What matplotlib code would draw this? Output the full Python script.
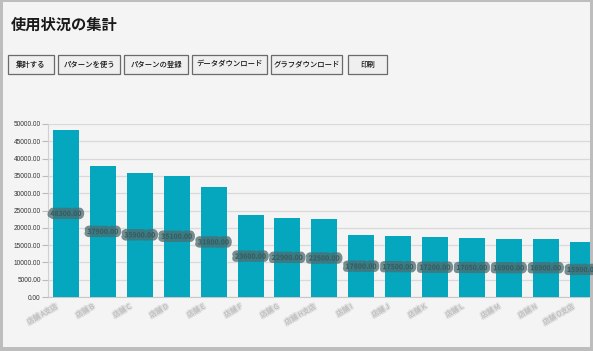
import matplotlib
matplotlib.use("Agg")
import matplotlib.pyplot as plt
from matplotlib.patches import Rectangle
import matplotlib.patheffects as pe

plt.rcParams['font.family'] = ['Noto Sans CJK JP', 'DejaVu Sans']

W, H = 593, 351

# ---- data ----
title = "使用状況の集計"
buttons = ["集計する", "パターンを使う", "パターンの登録", "データダウンロード", "グラフダウンロード", "印刷"]
categories = ["店舗 A支店", "店舗 B", "店舗 C", "店舗 D", "店舗 E", "店舗 F", "店舗 G", "店舗 H支店",
              "店舗 I", "店舗 J", "店舗 K", "店舗 L", "店舗 M", "店舗 N", "店舗 O支店"]
values = [48300, 37900, 35900, 35100, 31800, 23600, 22900, 22500,
          17800, 17500, 17200, 17050, 16900, 16900, 15900]
yticks = [0, 5000, 10000, 15000, 20000, 25000, 30000, 35000, 40000, 45000, 50000]

fig = plt.figure(figsize=(W / 100, H / 100), dpi=100)
fig.patch.set_facecolor('#bdbdbd')

def fx(x):
    return x / W

def fy(y):
    return 1 - y / H

# page background
fig.patches.append(Rectangle((fx(3), fy(347)), fx(590) - fx(3), fy(2) - fy(347),
                             transform=fig.transFigure, facecolor='#f4f4f4', edgecolor='none', zorder=-5))

# title
fig.text(fx(11), fy(25), title, fontsize=11, fontweight='bold', color='#1a1a1a',
         ha='left', va='center')

# buttons
btn_x = [(8, 54), (58, 120), (124, 188), (192, 267), (271, 342), (348, 387)]
for (x0, x1), label in zip(btn_x, buttons):
    fig.patches.append(Rectangle((fx(x0), fy(74)), fx(x1) - fx(x0), fy(55) - fy(74),
                                 transform=fig.transFigure, facecolor='#efefef',
                                 edgecolor='#6a6a6a', linewidth=0.9, zorder=-1))
    fig.text(fx((x0 + x1) / 2), fy(64.5), label, fontsize=5.3, fontweight='medium', color='#111111',
             ha='center', va='center', zorder=2)

# chart axes
ax_left, ax_right, ax_top, ax_bottom = 48, 590, 124, 297
ax = fig.add_axes([fx(ax_left), fy(ax_bottom), fx(ax_right) - fx(ax_left), fy(ax_top) - fy(ax_bottom)])
ax.set_facecolor('none')
ax.set_zorder(3)

step = 36.9
first_center = 66
xl = -(first_center - ax_left) / step
xr = xl + (ax_right - ax_left) / step
xs = list(range(len(values)))
ax.bar(xs, values, width=26 / step, color='#05a7be', zorder=3)
ax.set_xlim(xl, xr)
ax.set_ylim(0, 50000)
ax.set_yticks(yticks)
ax.set_yticklabels([f"{v:.2f}" for v in yticks], fontsize=4.7, family='Liberation Sans', color='#333333')
ax.tick_params(axis='y', length=4, color='#bbbbbb', pad=1.2, width=0.8)
ax.tick_params(axis='x', length=0, labelbottom=False)
ax.grid(axis='y', color='#d9d9d9', linewidth=0.9, zorder=1)
for s in ['top', 'right']:
    ax.spines[s].set_visible(False)
ax.spines['left'].set_color('#d0d0d0')
ax.spines['bottom'].set_color('#c8c8c8')

# blurred value labels in the middle of bars
for x, v in zip(xs, values):
    ax.text(x, v / 2, f"{v:.2f}", fontsize=5.0, fontweight='bold', color='#355a5f',
            ha='center', va='center', alpha=0.9, zorder=4,
            path_effects=[pe.Stroke(linewidth=4.5, foreground='#4d6c70', alpha=0.75), pe.Normal()])

# blurred rotated category labels
for x, c in zip(xs, categories):
    ax.annotate(c, xy=(x, 0), xycoords='data', xytext=(-9, -9), textcoords='offset pixels',
                rotation=30, rotation_mode='anchor', ha='right', va='center',
                fontsize=5, color='#b5b5b5', alpha=0.9, annotation_clip=False,
                path_effects=[pe.Stroke(linewidth=2, foreground='#d5d5d5', alpha=0.6), pe.Normal()])

fig.savefig('out.png', dpi=100, facecolor=fig.get_facecolor())
